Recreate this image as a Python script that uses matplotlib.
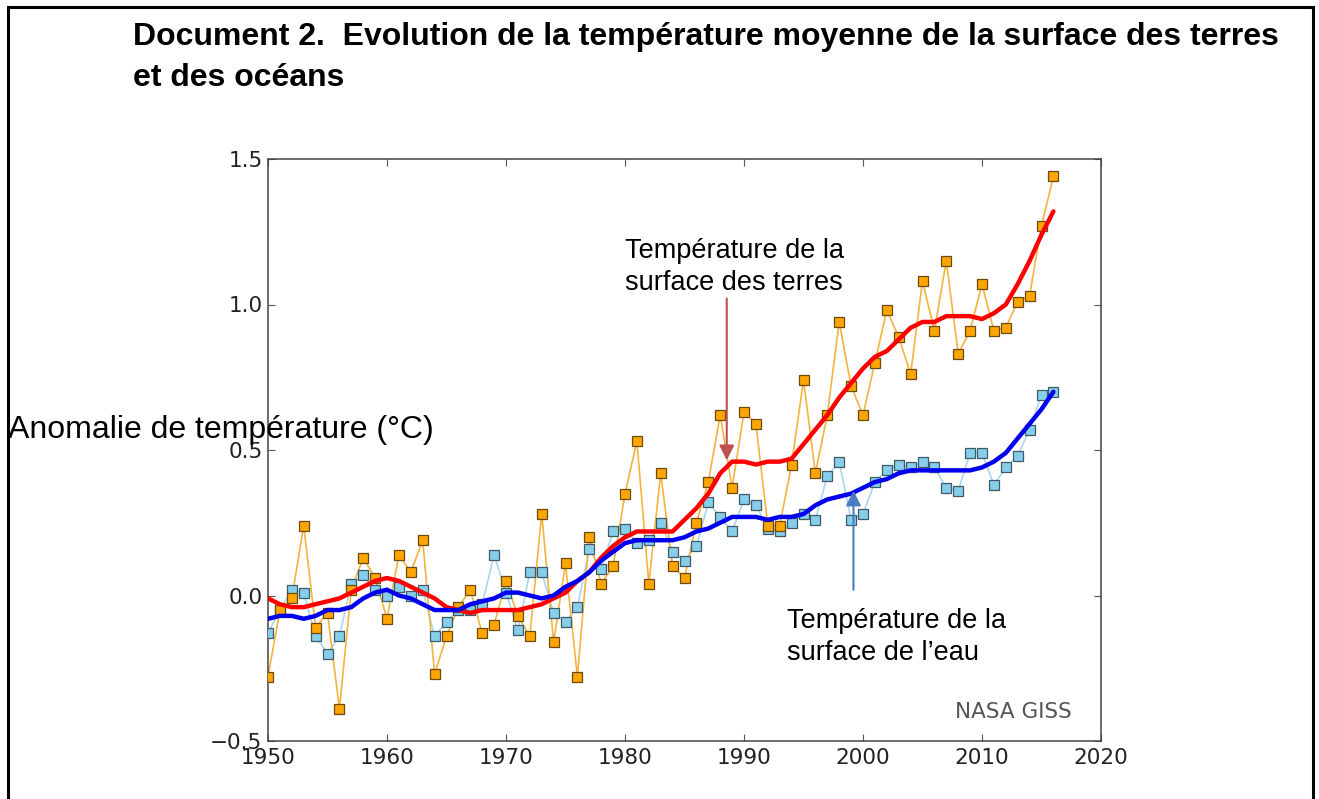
import numpy as np
import matplotlib
matplotlib.use('Agg')
from matplotlib import pyplot as plt
from matplotlib.patches import Rectangle

annees = np.arange(1950, 2017)

terres = [-0.28, -0.05, -0.01, 0.24, -0.11, -0.06, -0.39, 0.02, 0.13, 0.06,
          -0.08, 0.14, 0.08, 0.19, -0.27, -0.14, -0.04, 0.02, -0.13, -0.10,
          0.05, -0.07, -0.14, 0.28, -0.16, 0.11, -0.28, 0.20, 0.04, 0.10,
          0.35, 0.53, 0.04, 0.42, 0.10, 0.06, 0.25, 0.39, 0.62, 0.37,
          0.63, 0.59, 0.24, 0.24, 0.45, 0.74, 0.42, 0.62, 0.94, 0.72,
          0.62, 0.80, 0.98, 0.89, 0.76, 1.08, 0.91, 1.15, 0.83, 0.91,
          1.07, 0.91, 0.92, 1.01, 1.03, 1.27, 1.44]

oceans = [-0.13, -0.05, 0.02, 0.01, -0.14, -0.20, -0.14, 0.04, 0.07, 0.02,
          0.00, 0.03, 0.00, 0.02, -0.14, -0.09, -0.05, -0.05, -0.03, 0.14,
          0.01, -0.12, 0.08, 0.08, -0.06, -0.09, -0.04, 0.16, 0.09, 0.22,
          0.23, 0.18, 0.19, 0.25, 0.15, 0.12, 0.17, 0.32, 0.27, 0.22,
          0.33, 0.31, 0.23, 0.22, 0.25, 0.28, 0.26, 0.41, 0.46, 0.26,
          0.28, 0.39, 0.43, 0.45, 0.44, 0.46, 0.44, 0.37, 0.36, 0.49,
          0.49, 0.38, 0.44, 0.48, 0.57, 0.69, 0.70]

# courbes lissées
terres_lisse = [-0.01, -0.03, -0.04, -0.04, -0.03, -0.02, -0.01, 0.01, 0.03, 0.05,
                0.06, 0.05, 0.03, 0.01, -0.01, -0.04, -0.05, -0.06, -0.05, -0.05,
                -0.05, -0.05, -0.04, -0.03, -0.01, 0.01, 0.05, 0.08, 0.13, 0.17,
                0.20, 0.22, 0.22, 0.22, 0.22, 0.26, 0.30, 0.35, 0.42, 0.46,
                0.46, 0.45, 0.46, 0.46, 0.47, 0.52, 0.57, 0.62, 0.68, 0.73,
                0.78, 0.82, 0.84, 0.88, 0.92, 0.94, 0.94, 0.96, 0.96, 0.96,
                0.95, 0.97, 1.00, 1.07, 1.15, 1.24, 1.32]

oceans_lisse = [-0.08, -0.07, -0.07, -0.08, -0.07, -0.05, -0.05, -0.04, -0.01, 0.01,
                0.02, 0.00, -0.01, -0.03, -0.05, -0.05, -0.05, -0.03, -0.02, -0.01,
                0.01, 0.01, 0.00, -0.01, 0.00, 0.03, 0.05, 0.08, 0.12, 0.15,
                0.18, 0.19, 0.19, 0.19, 0.19, 0.20, 0.22, 0.23, 0.25, 0.27,
                0.27, 0.27, 0.26, 0.27, 0.27, 0.28, 0.31, 0.33, 0.34, 0.35,
                0.37, 0.39, 0.40, 0.42, 0.43, 0.43, 0.43, 0.43, 0.43, 0.43,
                0.44, 0.46, 0.49, 0.54, 0.59, 0.64, 0.70]

W, H = 1319, 799
fig = plt.figure(figsize=(W / 100, H / 100), dpi=100)
fig.patch.set_facecolor('white')

# cadre du document
fig.patches.append(Rectangle((8 / W, -0.05), (1313 - 8) / W, 1.05 - 7 / H,
                             transform=fig.transFigure, fill=False,
                             edgecolor='black', linewidth=2.2))

ax = fig.add_axes([268 / W, 1 - 741 / H, (1101 - 268) / W, (741 - 159) / H])

# séries annuelles
ax.plot(annees, oceans, color='#a9d8ea', lw=1.2, zorder=2)
ax.plot(annees, oceans, ls='none', marker='s', ms=7, mfc='#87ceeb',
        mec='#3d5a66', mew=0.9, zorder=3)
ax.plot(annees, terres, color='#f4b33f', lw=1.2, zorder=2)
ax.plot(annees, terres, ls='none', marker='s', ms=7, mfc='#ffa500',
        mec='#6b4a10', mew=0.9, zorder=3)

# moyennes lissées
ax.plot(annees, terres_lisse, color='#ff0000', lw=3.2, zorder=4,
        solid_capstyle='round')
ax.plot(annees, oceans_lisse, color='#0000ee', lw=3.2, zorder=4,
        solid_capstyle='round')

ax.set_xlim(1950, 2020)
ax.set_ylim(-0.5, 1.5)
ax.set_xticks([1950, 1960, 1970, 1980, 1990, 2000, 2010, 2020])
ax.set_yticks([-0.5, 0.0, 0.5, 1.0, 1.5])
ax.set_yticklabels(['\u22120.5', '0.0', '0.5', '1.0', '1.5'])
ax.tick_params(direction='in', length=5, width=0.8, color='#555555',
               top=True, right=True, labelsize=15.5, labelcolor='#222222')
ax.tick_params(axis='x', pad=5)
ax.tick_params(axis='y', pad=4)
for sp in ax.spines.values():
    sp.set_color('#444444')
    sp.set_linewidth(1.1)

# flèches
ax.annotate('', xy=(1988.55, 0.455), xytext=(1988.55, 1.03),
            arrowprops=dict(arrowstyle='-|>,head_width=0.45,head_length=0.9',
                            color='#c0504d', lw=1.5), zorder=5)
ax.annotate('', xy=(1999.2, 0.37), xytext=(1999.2, 0.01),
            arrowprops=dict(arrowstyle='-|>,head_width=0.45,head_length=0.9',
                            color='#4a7cc4', lw=1.5), zorder=5)

ax.text(0.965, 0.05, 'NASA GISS', transform=ax.transAxes, ha='right',
        va='center', fontsize=15.5, color='#555555')

# textes
fig.text(133 / W, 1 - 37 / H,
         'Document 2.  Evolution de la température moyenne de la surface des terres',
         fontsize=23, fontweight='bold', family='Liberation Sans', va='center')
fig.text(133 / W, 1 - 78 / H, 'et des océans',
         fontsize=23, fontweight='bold', family='Liberation Sans', va='center')
fig.text(8 / W, 1 - 430 / H, 'Anomalie de température (°C)', fontsize=23,
         family='Liberation Sans', va='center', zorder=10)
fig.text(625 / W, 1 - 267 / H, 'Température de la\nsurface des terres',
         fontsize=19.5, family='Liberation Sans', va='center', linespacing=1.25)
fig.text(787 / W, 1 - 637 / H, 'Température de la\nsurface de l\u2019eau',
         fontsize=19.5, family='Liberation Sans', va='center', linespacing=1.25)

fig.savefig('out.png', dpi=100)
